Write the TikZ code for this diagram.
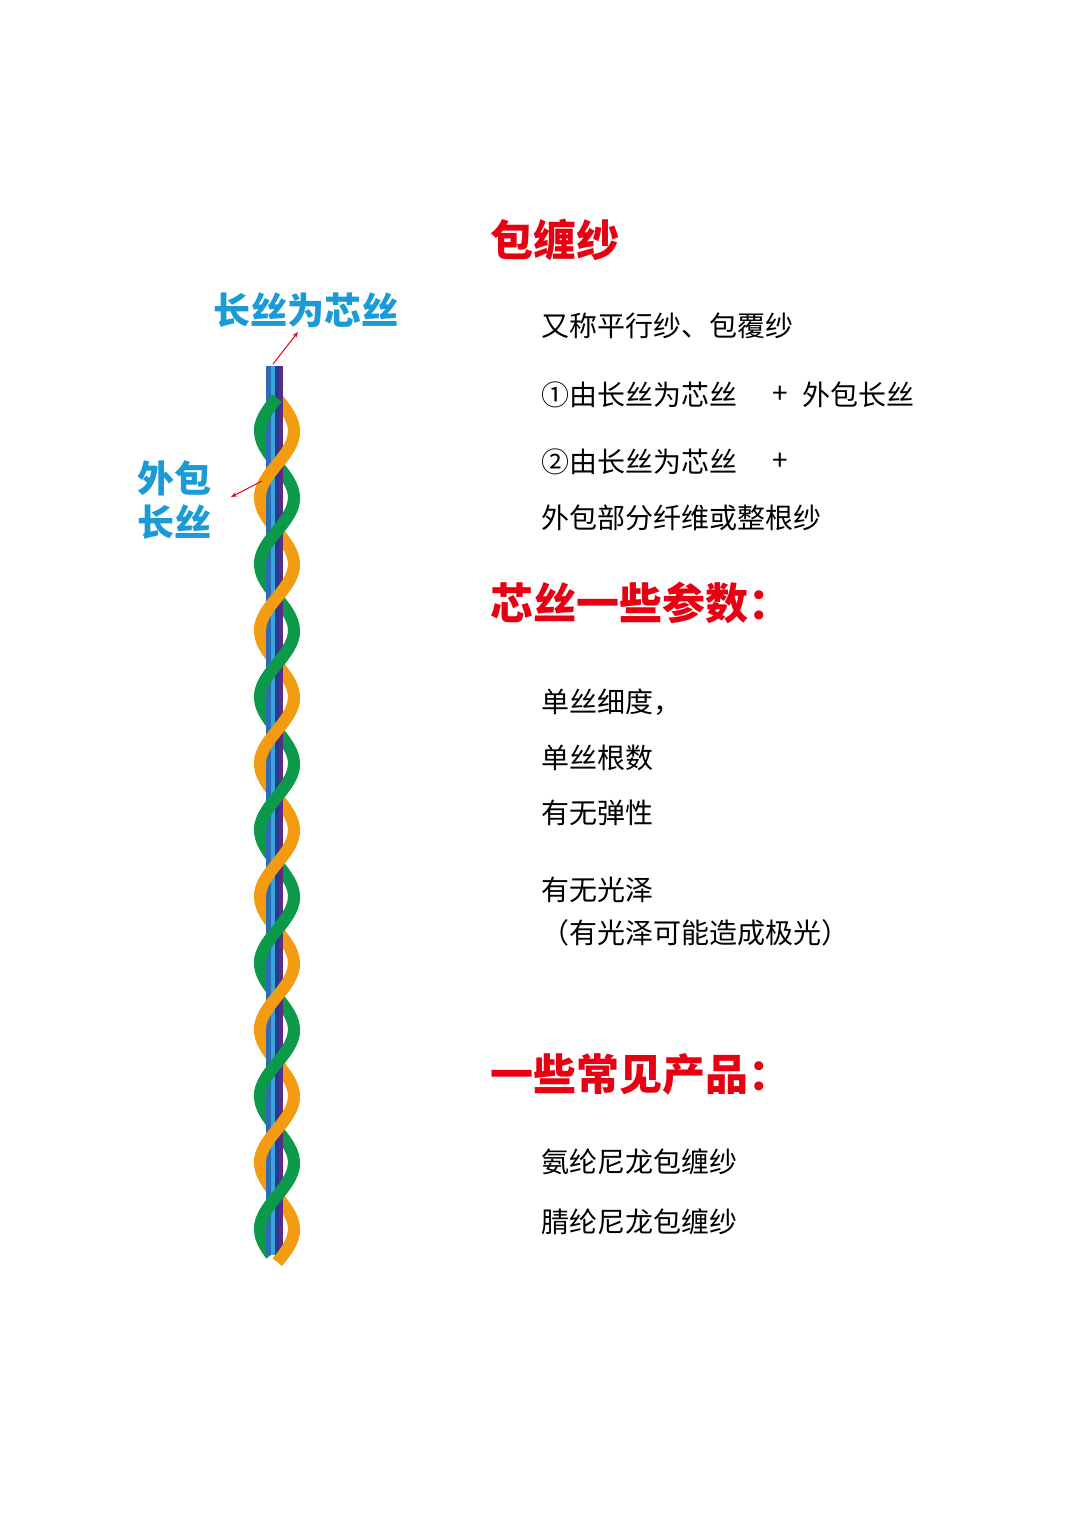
\documentclass[tikz,border=0pt]{standalone}
\usepackage{fontspec}
\newfontfamily\cjk{Noto Sans CJK SC}
\usetikzlibrary{arrows.meta}
\definecolor{tred}{HTML}{E60012}
\definecolor{tblue}{HTML}{1A9AD6}
\definecolor{sgreen}{HTML}{0C9A4A}
\definecolor{sorange}{HTML}{F39C12}
\definecolor{cblue}{HTML}{2A6DB5}
\definecolor{clight}{HTML}{3BA3E0}
\definecolor{cnavy}{HTML}{283A8C}
\definecolor{cpurple}{HTML}{5B2C83}
\tikzset{
 title/.style={anchor=west,text=tred,font=\cjk\bfseries\fontsize{43}{43}\selectfont,inner sep=0},
 body/.style={anchor=west,font=\cjk\fontsize{28}{28}\selectfont,inner sep=0},
 blab/.style={anchor=west,text=tblue,font=\cjk\bfseries\fontsize{37}{44}\selectfont,inner sep=0,align=left},
 strand/.style={line width=12pt},
 pointer/.style={draw=tred,line width=1pt,-{Stealth[length=6pt]}}
}
\begin{document}
\begin{tikzpicture}[x=1pt,y=-1pt]
\useasboundingbox (0,0) rectangle (1080,1528);
% back halves (full strands)
\draw[strand,sorange] plot[domain=398:1262,samples=200,variable=\t] ({277+17*sin(2.70677*(\t-398))},\t);
\draw[strand,sgreen] plot[domain=398:1255,samples=200,variable=\t] ({277-17*sin(2.70677*(\t-398))},\t);
% core
\fill[cblue] (266,366) rectangle (271,1255);
\fill[clight] (271,366) rectangle (275,1255);
\fill[cnavy] (275,366) rectangle (279,1255);
\fill[cpurple] (279,366) rectangle (283,1255);
\coordinate (coretop) at (273,364);
% front halves
\foreach \k in {0,...,6}{
 \pgfmathsetmacro{\ga}{max(398,398-33.25+133*\k)}
 \pgfmathsetmacro{\gb}{min(1255,398+33.25+133*\k)}
 \draw[strand,sgreen] plot[domain=\ga:\gb,samples=30,variable=\t] ({277-17*sin(2.70677*(\t-398))},\t);
 \pgfmathsetmacro{\oa}{398+33.25+133*\k}
 \pgfmathsetmacro{\ob}{min(1262,398+99.75+133*\k)}
 \draw[strand,sorange] plot[domain=\oa:\ob,samples=30,variable=\t] ({277+17*sin(2.70677*(\t-398))},\t);
}
\coordinate (wrap) at (262,481);
% labels
\node[blab] (lcore) at (213,310) {长丝为芯丝};
\node[blab] (lwrap) at (137,500) {外包\\长丝};
\draw[pointer] (coretop) -- (298,332);
\draw[pointer] (wrap) -- (231,497);
% right text
\node[title] (t1) at (490,240) {包缠纱};
\node[body] (b1) at (541,326) {又称平行纱、包覆纱};
\node[body] (b2) at (541,395) {①由长丝为芯丝};
\node[body] (b2p) at (772,395) {+};
\node[body] (b2w) at (802,395) {外包长丝};
\node[body] (b3) at (541,462) {②由长丝为芯丝};
\node[body] (b3p) at (772,462) {+};
\node[body] (b4) at (541,518) {外包部分纤维或整根纱};
\node[title] (t2) at (490,603) {芯丝一些参数：};
\node[body] (c1) at (541,702) {单丝细度，};
\node[body] (c2) at (541,758) {单丝根数};
\node[body] (c3) at (541,813) {有无弹性};
\node[body] (c4) at (541,890) {有无光泽};
\node[body] (c5) at (541,933) {（有光泽可能造成极光）};
\node[title] (t3) at (490,1074) {一些常见产品：};
\node[body] (p1) at (541,1162) {氨纶尼龙包缠纱};
\node[body] (p2) at (541,1222) {腈纶尼龙包缠纱};
\end{tikzpicture}
\end{document}
